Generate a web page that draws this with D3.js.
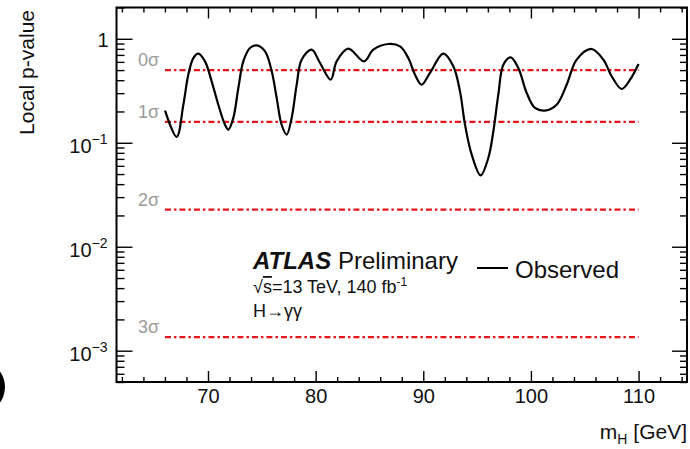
<!DOCTYPE html>
<html>
<head>
<meta charset="utf-8">
<script src="https://cdn.jsdelivr.net/npm/d3@7"></script>
<style>
  body { margin: 0; background: #fff; }
  svg { display: block; font-family: "Liberation Sans", Arial, Helvetica, sans-serif; }
</style>
</head>
<body>
<svg id="chart" width="690" height="449"></svg>
<script>
// Observed local p-value vs m_H
const massValues = [66.01, 67.09, 67.71, 68.17, 68.64, 69.10, 69.72, 70.34, 70.96, 71.58,
  71.89, 72.35, 72.82, 73.28, 73.90, 74.52, 75.30, 75.92, 76.38, 76.84,
  77.31, 77.77, 78.24, 78.70, 79.63, 80.41, 81.40, 81.95, 83.04, 84.49,
  85.36, 86.75, 87.84, 88.61, 89.23, 89.85, 90.62, 91.86, 92.79, 93.41,
  93.88, 94.50, 95.33, 96.04, 96.51, 96.97, 97.44, 98.12, 98.83, 99.61,
  100.38, 101.31, 102.39, 103.32, 104.25, 105.64, 106.73, 107.50, 108.43, 109.21,
  110.0];
const pValues = [0.204, 0.114, 0.232, 0.452, 0.653, 0.719, 0.607, 0.390, 0.232, 0.149,
  0.134, 0.173, 0.336, 0.607, 0.815, 0.865, 0.758, 0.487, 0.270, 0.149,
  0.120, 0.173, 0.362, 0.630, 0.786, 0.585, 0.404, 0.607, 0.804, 0.607,
  0.786, 0.891, 0.846, 0.653, 0.452, 0.362, 0.469, 0.719, 0.544, 0.312,
  0.149, 0.0768, 0.0486, 0.0714, 0.129, 0.290, 0.564, 0.663, 0.524, 0.301,
  0.216, 0.204, 0.232, 0.362, 0.630, 0.798, 0.630, 0.436, 0.329, 0.404,
  0.572];

// Significance reference lines
const sigmaLabels = ['0σ', '1σ', '2σ', '3σ'];
const sigmaPValues = [0.5, 0.1587, 0.02275, 0.00135];
const sigmaRange = [66, 110];

// Axis ticks
const majorX = [70, 80, 90, 100, 110];
const minorX = d3.range(62, 115, 2).filter((v) => majorX.indexOf(v) < 0);
const majorY = [1e-3, 1e-2, 1e-1, 1];
const minorY = [5e-4, 6e-4, 7e-4, 8e-4, 9e-4,
  2e-3, 3e-3, 4e-3, 5e-3, 6e-3, 7e-3, 8e-3, 9e-3,
  2e-2, 3e-2, 4e-2, 5e-2, 6e-2, 7e-2, 8e-2, 9e-2,
  0.2, 0.3, 0.4, 0.5, 0.6, 0.7, 0.8, 0.9, 2];
const yExponents = [-3, -2, -1, 0];

const svg = d3.select('#chart');

// Plot frame
const frame = { left: 116.5, right: 687, top: 7.5, bottom: 382 };

const x = d3.scaleLinear().domain([61.5, 114.5]).range([frame.left, frame.right]);
const y = d3.scaleLog().domain([5e-4, 2]).range([frame.bottom, frame.top]);

// stray black shape at the left edge of the picture
svg.append('ellipse')
  .attr('cx', -20).attr('cy', 387)
  .attr('rx', 25).attr('ry', 26)
  .attr('fill', '#000');

// Axes: major and minor ticks, pointing inward, on all four sides
function styleAxis(g) {
  g.select('.domain').remove();
  g.selectAll('.tick line').attr('stroke', '#000').attr('stroke-width', 1.4);
  g.attr('font-size', null).attr('font-family', null);
}

svg.append('g')
  .attr('transform', `translate(0,${frame.bottom})`)
  .call(d3.axisBottom(x).tickValues(majorX).tickSize(-11).tickPadding(7)
    .tickFormat(d3.format('d')))
  .call(styleAxis)
  .selectAll('.tick text')
  .attr('font-size', 20).attr('fill', '#111');

svg.append('g')
  .attr('transform', `translate(0,${frame.bottom})`)
  .call(d3.axisBottom(x).tickValues(minorX).tickSize(-5).tickFormat(''))
  .call(styleAxis);

svg.append('g')
  .attr('transform', `translate(0,${frame.top})`)
  .call(d3.axisTop(x).tickValues(majorX).tickSize(-11).tickFormat(''))
  .call(styleAxis);

svg.append('g')
  .attr('transform', `translate(0,${frame.top})`)
  .call(d3.axisTop(x).tickValues(minorX).tickSize(-5).tickFormat(''))
  .call(styleAxis);

const yAxisG = svg.append('g')
  .attr('transform', `translate(${frame.left},0)`)
  .call(d3.axisLeft(y).tickValues(majorY).tickSize(-16).tickPadding(8).tickFormat(''))
  .call(styleAxis);

// "1" and 10^n labels with superscripts
yAxisG.selectAll('.tick text').each(function(d, i) {
  const t = d3.select(this)
    .attr('font-size', 20)
    .attr('fill', '#111')
    .attr('text-anchor', 'end');
  const e = yExponents[i];
  if (e === 0) {
    t.attr('dy', '0.36em').text('1');
  } else {
    t.attr('dy', '0.5em').attr('x', -9).text('10');
    t.append('tspan')
      .attr('dy', -9)
      .attr('font-size', 14)
      .text('−' + Math.abs(e));
  }
});

svg.append('g')
  .attr('transform', `translate(${frame.left},0)`)
  .call(d3.axisLeft(y).tickValues(minorY).tickSize(-8).tickFormat(''))
  .call(styleAxis);

svg.append('g')
  .attr('transform', `translate(${frame.right},0)`)
  .call(d3.axisRight(y).tickValues(majorY).tickSize(-15).tickFormat(''))
  .call(styleAxis);

svg.append('g')
  .attr('transform', `translate(${frame.right},0)`)
  .call(d3.axisRight(y).tickValues(minorY).tickSize(-7).tickFormat(''))
  .call(styleAxis);

// Frame
svg.append('rect')
  .attr('x', frame.left).attr('y', frame.top)
  .attr('width', frame.right - frame.left).attr('height', frame.bottom - frame.top)
  .attr('fill', 'none')
  .attr('stroke', '#000')
  .attr('stroke-width', 2);

// Sigma lines and their labels
sigmaPValues.forEach((p, i) => {
  svg.append('line')
    .attr('x1', x(sigmaRange[0])).attr('x2', x(sigmaRange[1]))
    .attr('y1', y(p)).attr('y2', y(p))
    .attr('stroke', '#e8141c')
    .attr('stroke-width', 2.2)
    .attr('stroke-dasharray', '6,3,2.5,3');

  svg.append('text')
    .attr('x', 138)
    .attr('y', y(p) - 4)
    .attr('font-size', 18)
    .attr('fill', '#9b9b9b')
    .text(sigmaLabels[i]);
});

// Observed curve, smooth through the read-off points
const points = massValues.map((m, i) => [m, pValues[i]]);
const line = d3.line()
  .x((d) => x(d[0]))
  .y((d) => y(d[1]))
  .curve(d3.curveCatmullRom.alpha(0.5));

svg.append('path')
  .datum(points)
  .attr('d', line)
  .attr('fill', 'none')
  .attr('stroke', '#000')
  .attr('stroke-width', 2.2);

// ATLAS label block
const atlas = svg.append('text')
  .attr('x', 253).attr('y', 269)
  .attr('font-size', 24)
  .attr('fill', '#111');
atlas.append('tspan')
  .attr('font-weight', 'bold')
  .attr('font-style', 'italic')
  .text('ATLAS');
atlas.append('tspan').text(' Preliminary');

const energy = svg.append('text')
  .attr('x', 253).attr('y', 293)
  .attr('font-size', 18)
  .attr('fill', '#111');
energy.append('tspan').text('√');
energy.append('tspan')
  .attr('text-decoration', 'overline')
  .text('s');
energy.append('tspan').text('=13 TeV, 140 fb');
energy.append('tspan')
  .attr('dy', -7)
  .attr('font-size', 12)
  .text('-1');

svg.append('text')
  .attr('x', 253).attr('y', 317)
  .attr('font-size', 18)
  .attr('fill', '#111')
  .text('H→γγ');

// Legend
svg.append('line')
  .attr('x1', 477).attr('x2', 508)
  .attr('y1', 268).attr('y2', 268)
  .attr('stroke', '#000')
  .attr('stroke-width', 2);

svg.append('text')
  .attr('x', 515).attr('y', 278)
  .attr('font-size', 24)
  .attr('fill', '#111')
  .text('Observed');

// Axis titles
const xTitle = svg.append('text')
  .attr('x', 687).attr('y', 439)
  .attr('text-anchor', 'end')
  .attr('font-size', 21)
  .attr('fill', '#111');
xTitle.append('tspan').text('m');
xTitle.append('tspan')
  .attr('dy', 5)
  .attr('font-size', 14)
  .text('H');
xTitle.append('tspan')
  .attr('dy', -5)
  .text(' [GeV]');

svg.append('text')
  .attr('transform', 'translate(34,10) rotate(-90)')
  .attr('text-anchor', 'end')
  .attr('font-size', 21)
  .attr('fill', '#111')
  .text('Local p-value');
</script>
</body>
</html>
